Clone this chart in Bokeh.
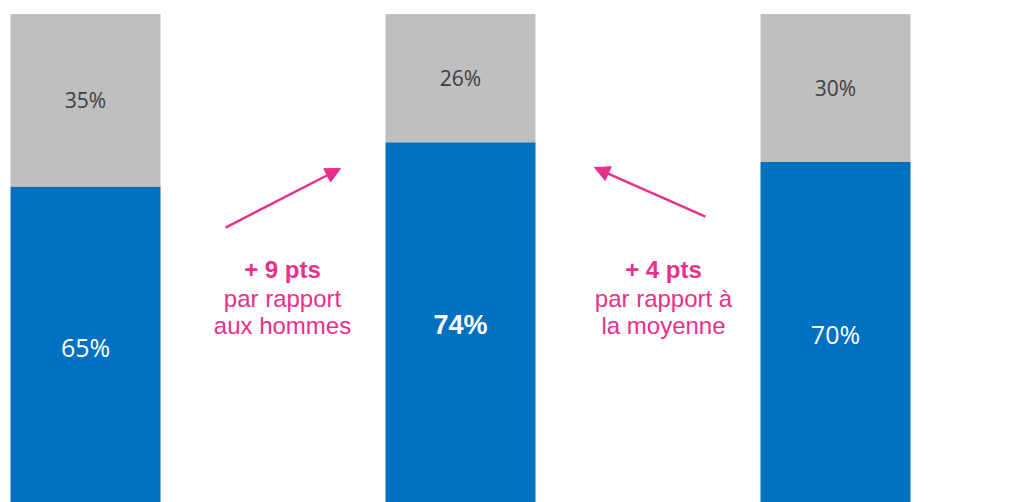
from bokeh.plotting import figure
from bokeh.models import ColumnDataSource, Range1d, Arrow, NormalHead, Label
from bokeh.embed import file_html
from bokeh.resources import INLINE
from bokeh.core.properties import value

# Data
categories = ["Hommes", "Femmes", "Moyenne"]
oui = [65, 74, 70]
non = [35, 26, 30]
oui_labels = ["65%", "74%", "70%"]
non_labels = ["35%", "26%", "30%"]

# Annotation texts
ann1_lines = ["+ 9 pts", "par rapport", "aux hommes"]
ann2_lines = ["+ 4 pts", "par rapport à", "la moyenne"]

BLUE = "#0070C0"
GREY = "#BFBFBF"
PINK = "#E8308A"

xs = list(range(len(categories)))
src = ColumnDataSource(dict(
    x=xs, oui=oui, non=non,
    oui_top=oui,
    non_bottom=oui,
    non_top=[o + n for o, n in zip(oui, non)],
    oui_mid=[o / 2 for o in oui],
    non_mid=[o + n / 2 for o, n in zip(oui, non)],
    oui_lab=oui_labels, non_lab=non_labels,
))

p = figure(width=1015, height=502, output_backend="svg", toolbar_location=None,
           x_range=Range1d(-0.2267, 2.4800), y_range=Range1d(0.913, 102.74),
           min_border=0, outline_line_color=None)
p.axis.visible = False
p.grid.visible = False

p.vbar(x="x", bottom=0, top="oui_top", width=0.4, fill_color=BLUE, line_color=None, source=src)
p.vbar(x="x", bottom="non_bottom", top="non_top", width=0.4, fill_color=GREY, line_color=None, source=src)

# grey labels
p.text(x="x", y="non_mid", text="non_lab", source=src, text_align="center", text_baseline="middle",
       text_font=value("Open Sans"), text_font_size="21px", text_color="#404040")

# blue labels (middle one bold)
for i in range(len(categories)):
    bold = i == 1
    p.add_layout(Label(x=xs[i], y=oui[i] / 2, text=oui_labels[i], text_align="center",
                       text_baseline="middle",
                       text_font="Liberation Sans" if bold else "Open Sans",
                       text_font_style="bold" if bold else "normal",
                       text_font_size="27px" if bold else "25px", text_color="white"))

# arrows
arrows = [
    dict(x0=0.3733, y0=56.69, x1=0.68, y1=68.66),
    dict(x0=1.6533, y0=58.92, x1=1.3573, y1=68.86),
]
for a in arrows:
    p.add_layout(Arrow(x_start=a["x0"], y_start=a["y0"], x_end=a["x1"], y_end=a["y1"],
                       line_color=PINK, line_width=2.5,
                       end=NormalHead(size=15, fill_color=PINK, line_color=PINK)))

# annotation texts
ann_x = [0.5253, 1.5413]
line_y = [48.17, 42.29, 36.82]
for cx, lines in zip(ann_x, [ann1_lines, ann2_lines]):
    for j, (t, yy) in enumerate(zip(lines, line_y)):
        p.add_layout(Label(x=cx, y=yy, text=t, text_align="center", text_baseline="middle",
                           text_font="Liberation Sans",
                           text_font_style="bold" if j == 0 else "normal",
                           text_font_size="24px", text_color=PINK))

open("out.html", "w").write(file_html(p, INLINE))
